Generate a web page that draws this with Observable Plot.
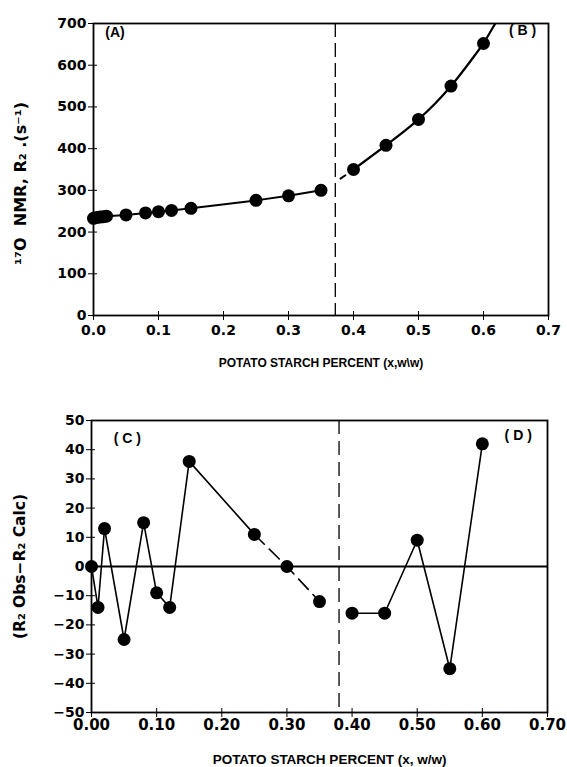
<!DOCTYPE html>
<html>
<head>
<meta charset="utf-8">
<script src="https://cdn.jsdelivr.net/npm/d3@7"></script>
<script src="https://cdn.jsdelivr.net/npm/@observablehq/plot@0.6"></script>
<style>
  html, body { margin: 0; padding: 0; background: #fff; }
  #chart { width: 567px; }
  svg { display: block; }
</style>
</head>
<body>
<div id="chart"></div>
<script>
// ---- Panel (A)/(B): 17O NMR R2 vs potato starch fraction ----
const xA = [0, 0.005, 0.01, 0.015, 0.02, 0.05, 0.08, 0.10, 0.12, 0.15, 0.25, 0.30, 0.35];
const r2A = [233, 235, 236, 237, 238, 241, 246, 249, 252, 257, 276, 287, 300];
const xB = [0.40, 0.45, 0.50, 0.55, 0.60];
const r2B = [350, 408, 470, 550, 652];
// fitted curve continuation in region B
const xBfitLead = [0.38, 0.40];
const r2BfitLead = [328, 350];
const xBfitTail = [0.60, 0.62];
const r2BfitTail = [652, 705];
const topXTicks = [0, 0.1, 0.2, 0.3, 0.4, 0.5, 0.6, 0.7];
const topYTicks = [0, 100, 200, 300, 400, 500, 600, 700];
const topBoundary = 0.372;

// ---- Panel (C)/(D): residuals ----
const xC = [0, 0.01, 0.02, 0.05, 0.08, 0.10, 0.12, 0.15, 0.25, 0.30, 0.35];
const resC = [0, -14, 13, -25, 15, -9, -14, 36, 11, 0, -12];
const xD = [0.40, 0.45, 0.50, 0.55, 0.60];
const resD = [-16, -16, 9, -35, 42];
const botXTicks = [0, 0.1, 0.2, 0.3, 0.4, 0.5, 0.6, 0.7];
const botYTicks = [-50, -40, -30, -20, -10, 0, 10, 20, 30, 40, 50];
const botBoundary = 0.38;

const panelLabels = {A: [0.033, 678], B: [0.66, 683], C: [0.055, 44], D: [0.655, 45]};

const ptsA = xA.map((x, i) => ({x, y: r2A[i]}));
const ptsB = xB.map((x, i) => ({x, y: r2B[i]}));
const leadB = xBfitLead.map((x, i) => ({x, y: r2BfitLead[i]}));
const tailB = xBfitTail.map((x, i) => ({x, y: r2BfitTail[i]}));
const ptsC = xC.map((x, i) => ({x, y: resC[i]}));
const ptsD = xD.map((x, i) => ({x, y: resD[i]}));

const TICKFONT = "'DejaVu Sans', sans-serif";
const TITLEFONT = "'Liberation Sans', Arial, sans-serif";
const R = 6.5;

const topPlot = Plot.plot({
  width: 567,
  height: 372,
  marginTop: 23,
  marginBottom: 57,
  marginLeft: 93,
  marginRight: 19,
  style: {fontFamily: TICKFONT, fontSize: "13px", fontWeight: "bold", color: "#000", background: "#fff"},
  x: {domain: [0, 0.7]},
  y: {domain: [0, 700]},
  marks: [
    Plot.frame({stroke: "#000", strokeWidth: 1.8}),
    Plot.axisX(topXTicks, {tickSize: 5, tickFormat: d3.format(".1f"), tickPadding: 5, label: null, fontSize: 14}),
    Plot.axisX(topXTicks, {tickSize: -4, text: null, label: null}),
    Plot.axisY(topYTicks, {tickSize: 5, tickPadding: 2, label: null, fontSize: 14}),
    Plot.axisY(topYTicks, {tickSize: -4, text: null, label: null}),
    Plot.ruleX([topBoundary], {stroke: "#000", strokeWidth: 1.3, strokeDasharray: "14,6"}),
    Plot.line(ptsA, {x: "x", y: "y", stroke: "#000", strokeWidth: 2}),
    Plot.line(leadB, {x: "x", y: "y", stroke: "#000", strokeWidth: 2, strokeDasharray: "6,5"}),
    Plot.line(ptsB, {x: "x", y: "y", stroke: "#000", strokeWidth: 2.2, curve: "natural"}),
    Plot.line(tailB, {x: "x", y: "y", stroke: "#000", strokeWidth: 2.2, clip: true}),
    Plot.dot(ptsA, {x: "x", y: "y", r: R, fill: "#000"}),
    Plot.dot(ptsB, {x: "x", y: "y", r: R, fill: "#000"}),
    Plot.text([["(A)", ...panelLabels.A], ["( B )", ...panelLabels.B]], {x: d => d[1], y: d => d[2], text: d => d[0], fontSize: 14, fontWeight: "bold", fontFamily: TITLEFONT}),
    Plot.text(["POTATO STARCH PERCENT (x,w\\w)"], {frameAnchor: "bottom", dy: 51, fontSize: 12, fontWeight: "bold", fontFamily: TITLEFONT}),
    Plot.text(["¹⁷O  NMR, R₂ .(s⁻¹)"], {frameAnchor: "left", textAnchor: "middle", dx: -73, dy: 14, rotate: -90, fontSize: 16, fontWeight: "bold"})
  ]
});

const botPlot = Plot.plot({
  width: 567,
  height: 395,
  marginTop: 48,
  marginBottom: 55,
  marginLeft: 91,
  marginRight: 20,
  style: {fontFamily: TICKFONT, fontSize: "13px", fontWeight: "bold", color: "#000", background: "#fff"},
  x: {domain: [0, 0.7]},
  y: {domain: [-50, 50]},
  marks: [
    Plot.frame({stroke: "#000", strokeWidth: 1.8}),
    Plot.axisX(botXTicks, {tickSize: 5, tickFormat: d3.format(".2f"), tickPadding: 2, label: null, fontSize: 15}),
    Plot.axisX(botXTicks, {tickSize: -4, text: null, label: null}),
    Plot.axisY(botYTicks, {tickSize: 5, tickPadding: 2, label: null, fontSize: 14}),
    Plot.axisY(botYTicks, {tickSize: -4, text: null, label: null}),
    Plot.ruleY([0], {stroke: "#000", strokeWidth: 1.8}),
    Plot.ruleX([botBoundary], {stroke: "#000", strokeWidth: 1.3, strokeDasharray: "14,7"}),
    Plot.line(ptsC.slice(0, 9), {x: "x", y: "y", stroke: "#000", strokeWidth: 1.6}),
    Plot.line(ptsC.slice(8), {x: "x", y: "y", stroke: "#000", strokeWidth: 1.6, strokeDasharray: "14,7"}),
    Plot.line(ptsD, {x: "x", y: "y", stroke: "#000", strokeWidth: 1.6}),
    Plot.dot(ptsC, {x: "x", y: "y", r: R, fill: "#000"}),
    Plot.dot(ptsD, {x: "x", y: "y", r: R, fill: "#000"}),
    Plot.text([["( C )", ...panelLabels.C], ["( D )", ...panelLabels.D]], {x: d => d[1], y: d => d[2], text: d => d[0], fontSize: 14, fontWeight: "bold", fontFamily: TITLEFONT}),
    Plot.text(["POTATO STARCH PERCENT (x, w/w)"], {frameAnchor: "bottom", dx: 10, dy: 51, fontSize: 13.5, fontWeight: "bold", fontFamily: TITLEFONT}),
    Plot.text(["(R₂ Obs−R₂ Calc)"], {frameAnchor: "left", textAnchor: "middle", dx: -71, rotate: -90, fontSize: 15.5, fontWeight: "bold"})
  ]
});

document.getElementById("chart").append(topPlot, botPlot);
</script>
</body>
</html>
